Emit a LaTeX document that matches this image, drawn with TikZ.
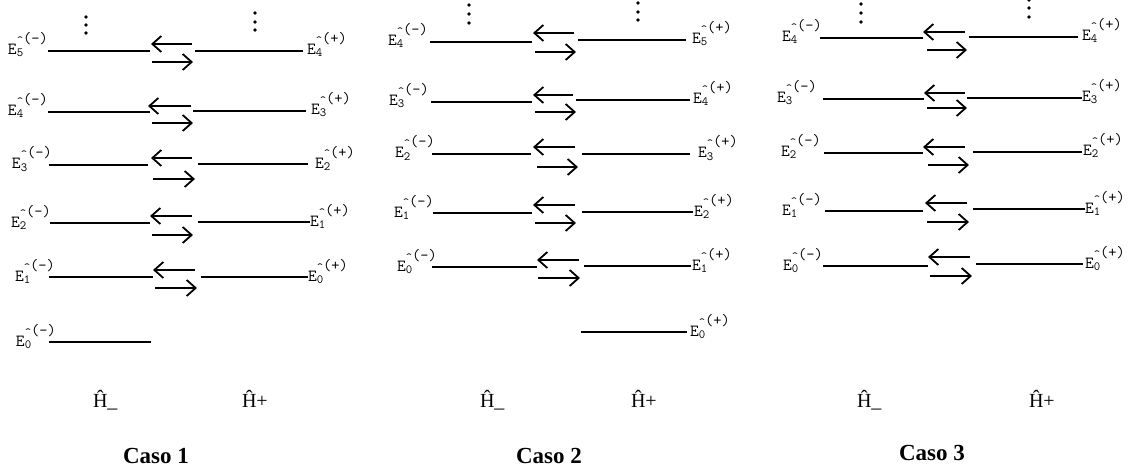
\documentclass[tikz,border=0pt]{standalone}
\usepackage{fontspec}
\newfontfamily\tnr{Liberation Serif}
\usetikzlibrary{arrows.meta}
\newcommand\lv[2]{{\fontsize{17}{17}\selectfont\ttfamily E}%
\raisebox{-2pt}{\fontsize{12.5}{12.5}\selectfont\ttfamily\makebox[0pt][l]{\raisebox{12pt}{\textasciicircum}}#1}%
\raisebox{11pt}{\fontsize{16}{16}\selectfont\ttfamily(#2)}}
\newcommand\hH{\char"0124}
\tikzset{
  lvl/.style={line width=1.7pt},
  arr/.style={line width=1.8pt,-{Straight Barb[length=9pt,width=16pt]}},
  lbl/.style={inner sep=0pt,outer sep=0pt},
  ham/.style={inner sep=0pt,outer sep=0pt,anchor=base west,font=\tnr\fontsize{20}{20}\selectfont},
  caso/.style={inner sep=0pt,outer sep=0pt,anchor=base west,font=\tnr\bfseries\fontsize{23}{23}\selectfont},
  dot/.style={fill=black}
}
\begin{document}
\begin{tikzpicture}[x=1pt,y=-1pt]
\useasboundingbox[fill=white] (0,0) rectangle (1142,473);
% rows: name/yl/ls/le/yr/rs/re/lx/ld/rx/rd/ya/aa/ab/yb/ba/bb
\foreach \n/\yl/\ls/\le/\yr/\rs/\re/\lx/\ld/\rx/\rd/\ya/\aa/\ab/\yb/\ba/\bb in {
 a1/51/48/150/51/195/303/8/5/307/4/44/192/151/62/152/193,
 a2/112/48/150/111/193/306/8/4/311/3/106/191/148/123/152/193,
 a3/165/49/148/164/198/308/12/3/315/2/158/192/151/179/153/195,
 a4/223/50/150/222/198/310/11/2/310/1/216/192/150/235/152/193,
 a5/277/49/153/277/201/308/15/1/308/0/270/195/153/288/155/197,
 b1/42/430/532/40/578/686/388/4/692/5/33/574/533/52/535/576,
 b2/102/431/532/100/576/690/389/3/693/4/95/573/533/112/535/576,
 b3/154/432/531/154/582/690/395/2/698/3/147/575/533/167/537/578,
 b4/213/433/532/212/582/693/394/1/694/2/205/575/533/223/535/576,
 b5/267/432/537/266/584/691/397/0/692/1/260/579/537/278/538/580,
 c1/38/820/923/37/969/1078/782/4/1082/4/32/965/923/50/927/967,
 c2/99/823/924/98/967/1082/777/3/1082/3/93/965/924/108/927/967,
 c3/153/824/923/152/973/1082/781/2/1083/2/147/965/923/165/928/969,
 c4/211/825/923/209/973/1085/782/1/1085/1/203/967/925/222/927/969,
 c5/266/823/928/264/976/1083/783/0/1085/0/257/970/928/276/930/972}
{
  \coordinate (\n-ls) at (\ls,\yl);
  \coordinate (\n-le) at (\le,\yl);
  \coordinate (\n-rs) at (\rs,\yr);
  \coordinate (\n-re) at (\re,\yr);
  \coordinate (\n-aa) at (\aa,\ya);
  \coordinate (\n-ab) at (\ab,\ya);
  \coordinate (\n-ba) at (\ba,\yb);
  \coordinate (\n-bb) at (\bb,\yb);
  \node[lbl,anchor=base west] (\n-L) at (\lx,\yl+4) {\lv{\ld}{-}};
  \node[lbl,anchor=base west] (\n-R) at (\rx,\yr+4) {\lv{\rd}{+}};
  \draw[lvl] (\n-ls) -- (\n-le);
  \draw[lvl] (\n-rs) -- (\n-re);
  \draw[arr] (\n-aa) -- (\n-ab);
  \draw[arr] (\n-ba) -- (\n-bb);
}
% single levels
\coordinate (a0-ls) at (49,342);
\coordinate (a0-le) at (151,342);
\node[lbl,anchor=base west] (a0-L) at (16,346) {\lv{0}{-}};
\draw[lvl] (a0-ls) -- (a0-le);
\coordinate (b0-rs) at (581,332);
\coordinate (b0-re) at (687,332);
\node[lbl,anchor=base west] (b0-R) at (690,336) {\lv{0}{+}};
\draw[lvl] (b0-rs) -- (b0-re);
% dots
\foreach \x/\y in {86/17,86/25,86/33,255/13,255/22,255/30,
  469/5,469/14,469/23,638/3,638/12,638/20,
  861/4,861/13,861/22,1029/0,1029/8,1029/17}
  \fill[dot] (\x,\y) circle (1.9);
% bottom labels
\node[ham] (h1m) at (93,407) {\hH\_};
\node[ham] (h1p) at (242,407) {\hH+};
\node[caso] (k1) at (123,463) {Caso 1};
\node[ham] (h2m) at (480,407) {\hH\_};
\node[ham] (h2p) at (631,407) {\hH+};
\node[caso] (k2) at (516,463) {Caso 2};
\node[ham] (h3m) at (857,407) {\hH\_};
\node[ham] (h3p) at (1029,407) {\hH+};
\node[caso] (k3) at (899,460) {Caso 3};
\end{tikzpicture}
\end{document}
